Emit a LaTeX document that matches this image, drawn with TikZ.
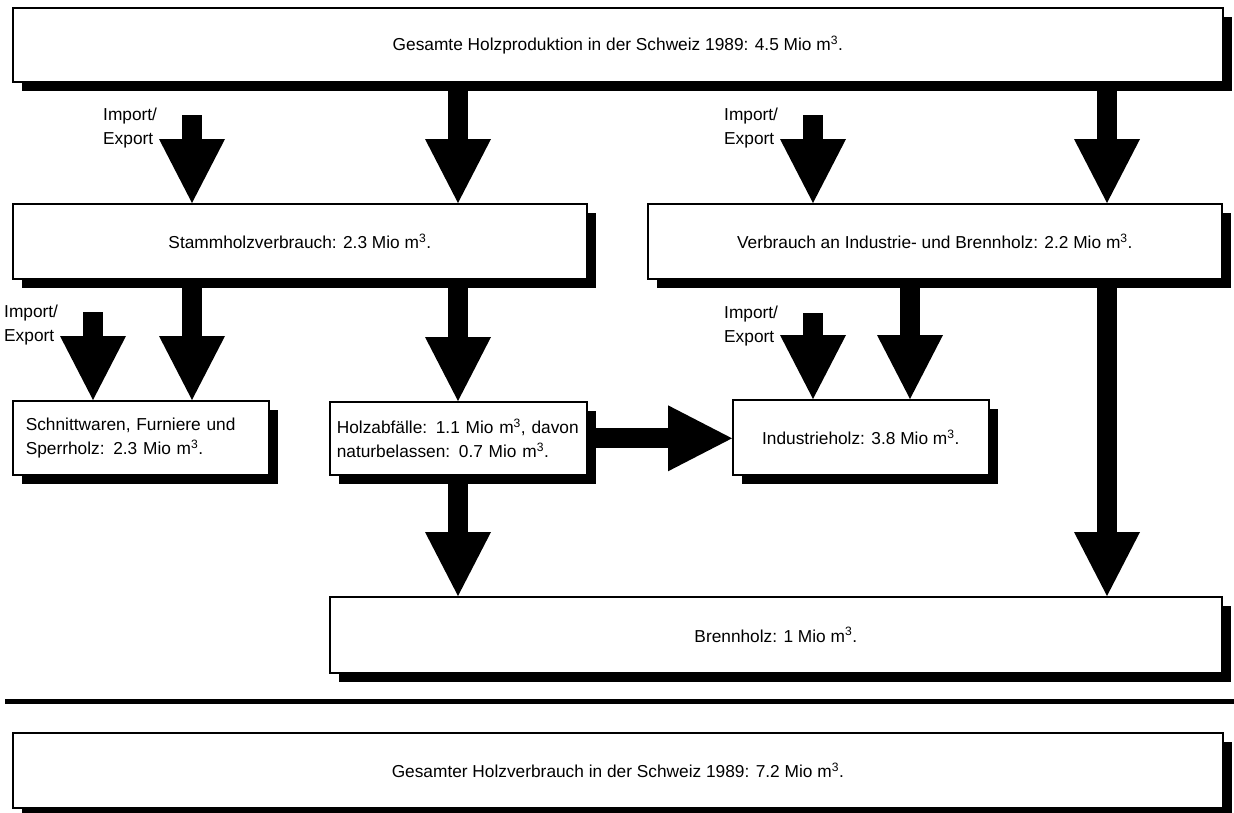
\documentclass[tikz,border=0pt]{standalone}
\usepackage{fontspec}
\setmainfont{Liberation Sans}
\usetikzlibrary{arrows.meta, calc, shadows}

\tikzset{
  box/.style={draw, line width=1.6pt, fill=white, anchor=north west, inner sep=0pt,
    drop shadow={shadow xshift=9pt, shadow yshift=-9pt, fill=black, opacity=1}},
  flow/.style={line width=20pt, -{Triangle[length=64pt, width=66pt, line width=0pt]}},
  iolabel/.style={anchor=north west, align=left, inner sep=0pt}
}
\newcommand{\mio}{Mio m\textsuperscript{3}.}

\begin{document}
\begin{tikzpicture}[x=1pt, y=-1pt, every node/.style={font=\fontsize{17.3}{24}\selectfont}]
  \useasboundingbox (0,0) rectangle (1234,812);

  % columns of the vertical flows
  \coordinate (colA) at (93,0);
  \coordinate (colB) at (192,0);
  \coordinate (colC) at (458,0);
  \coordinate (colD) at (813,0);
  \coordinate (colE) at (910,0);
  \coordinate (colF) at (1107,0);

  % boxes
  \node[box, minimum width=1210pt, minimum height=74pt] (prod) at (12,7)
    {Gesamte Holzproduktion in der Schweiz 1989: 4.5 \mio};
  \node[box, minimum width=574pt, minimum height=75pt] (stamm) at (12,203)
    {Stammholzverbrauch: 2.3 \mio};
  \node[box, minimum width=574pt, minimum height=75pt] (indbr) at (647,203)
    {Verbrauch an Industrie- und Brennholz: 2.2 \mio};
  \node[box, minimum width=256pt, minimum height=74pt, inner xsep=13pt,
        text width=230pt, align=left] (schnitt) at (12,400)
    {Schnittwaren, Furniere und\\Sperrholz: 2.3 \mio};
  \node[box, minimum width=257pt, minimum height=73pt, inner xsep=7pt,
        text width=243pt, align=left] (abfall) at (329,401)
    {Holzabfälle: 1.1 Mio m\textsuperscript{3}, davon\\naturbelassen: 0.7 \mio};
  \node[box, minimum width=256pt, minimum height=75pt] (industrie) at (732,399)
    {Industrieholz: 3.8 \mio};
  \node[box, minimum width=892pt, minimum height=76pt] (brenn) at (329,596)
    {Brennholz: 1 \mio};
  \node[box, minimum width=1210pt, minimum height=75pt] (verbr) at (12,732)
    {Gesamter Holzverbrauch in der Schweiz 1989: 7.2 \mio};

  % import/export inputs
  \coordinate (imp1) at (192,115);
  \coordinate (imp2) at (813,115);
  \coordinate (imp3) at (93,312);
  \coordinate (imp4) at (813,313);
  \foreach \i in {1,...,4}
    \node[iolabel] (io\i) at ($(imp\i)+(-89,-7)$) {Import/\\Export};

  % flows
  \draw[flow] (imp1) -- (stamm.north -| imp1);
  \draw[flow] (imp2) -- (indbr.north -| imp2);
  \draw[flow] (imp3) -- (schnitt.north -| imp3);
  \draw[flow] (imp4) -- (industrie.north -| imp4);
  \draw[flow] (prod.south -| colC) -- (stamm.north -| colC);
  \draw[flow] (prod.south -| colF) -- (indbr.north -| colF);
  \draw[flow] (stamm.south -| colB) -- (schnitt.north -| colB);
  \draw[flow] (stamm.south -| colC) -- (abfall.north -| colC);
  \draw[flow] (indbr.south -| colE) -- (industrie.north -| colE);
  \draw[flow] (indbr.south -| colF) -- (brenn.north -| colF);
  \draw[flow] (abfall.south -| colC) -- (brenn.north -| colC);
  \draw[flow] (abfall.east) -- (abfall.east -| industrie.west);

  % separator above the total
  \draw[line width=5pt] (5,701.5) -- (1234,701.5);
\end{tikzpicture}
\end{document}
